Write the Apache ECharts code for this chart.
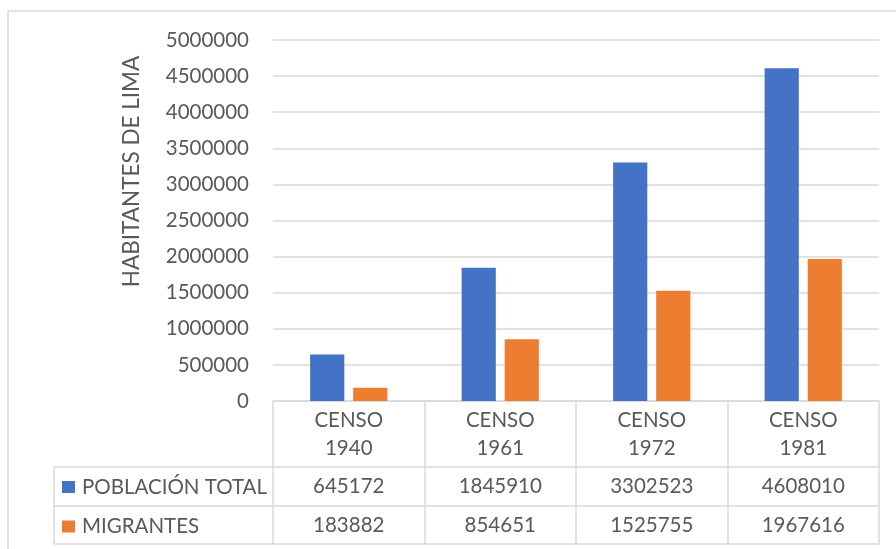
<!DOCTYPE html>
<html><head><meta charset="utf-8">
<script src="https://cdn.jsdelivr.net/npm/echarts@6/dist/echarts.min.js"></script>
<style>html,body{margin:0;padding:0;background:#fff}#c{width:896px;height:549px}</style>
</head><body><div id="c"></div>
<script>
// ---- data ----
const categories = ['CENSO\n1940', 'CENSO\n1961', 'CENSO\n1972', 'CENSO\n1981'];
const seriesNames = ['POBLACIÓN TOTAL', 'MIGRANTES'];
const poblacionTotal = [645172, 1845910, 3302523, 4608010];
const migrantes = [183882, 854651, 1525755, 1967616];
const yMin = 0, yMax = 5000000, yInterval = 500000;
const yAxisTitle = 'HABITANTES DE LIMA';

// ---- style ----
const FONT = 'Lato';
const TXT = '#595959';
const LINE = '#D9D9D9';
const COLORS = ['#4472C4', '#ED7D31'];
const FS = 20.5;
const TITLE_FS = 22.5;
const G = { left: 273, right: 17, top: 40, bottom: 148 };
const ROWS = [66, 39, 38];
const TABLE_LEFT = 54;

const chart = echarts.init(document.getElementById('c'), null, { renderer: 'canvas' });

const option = {
  animation: false,
  textStyle: { fontFamily: FONT },
  grid: { left: G.left, right: G.right, top: G.top, bottom: G.bottom, containLabel: false },
  legend: {
    orient: 'vertical', left: 62, top: 476.5, padding: 0,
    itemWidth: 13, itemHeight: 12, itemGap: 18.5,
    icon: 'rect', selectedMode: false,
    textStyle: { color: TXT, fontSize: FS, fontFamily: FONT, lineHeight: 20, padding: [0, 0, 0, 2] },
    data: seriesNames
  },
  xAxis: {
    type: 'category', data: categories,
    axisLine: { lineStyle: { color: LINE, width: 1.5 } },
    axisTick: { show: true, length: ROWS[0] + ROWS[1] + ROWS[2], lineStyle: { color: LINE, width: 1.5 } },
    axisLabel: { color: TXT, fontSize: FS, fontFamily: FONT, lineHeight: 28, margin: 5, interval: 0 }
  },
  yAxis: {
    type: 'value', min: yMin, max: yMax, interval: yInterval,
    axisLine: { show: false }, axisTick: { show: false },
    axisLabel: { color: TXT, fontSize: FS, fontFamily: FONT, margin: 24, formatter: v => String(v) },
    splitLine: { lineStyle: { color: LINE, width: 1.5 } }
  },
  series: [
    { type: 'bar', name: seriesNames[0], data: poblacionTotal, itemStyle: { color: COLORS[0] }, barGap: '26%', barCategoryGap: '49%' },
    { type: 'bar', name: seriesNames[1], data: migrantes, itemStyle: { color: COLORS[1] }, barGap: '26%', barCategoryGap: '49%' }
  ]
};
chart.setOption(option);

// ---- table (data-table under the axis) ----
const H = chart.getHeight(), W = chart.getWidth();
const axisY = H - G.bottom;
const rightX = W - G.right;
const r1 = axisY + ROWS[0], r2 = r1 + ROWS[1], r3 = r2 + ROWS[2];
const graphics = [];
graphics.push({ type: 'rect', shape: { x: 8, y: 11, width: W, height: H }, style: { fill: 'none', stroke: LINE, lineWidth: 1.5 }, silent: true });
[r1, r2, r3].forEach(y => graphics.push({ type: 'line', shape: { x1: TABLE_LEFT, y1: y, x2: rightX, y2: y }, style: { stroke: LINE, lineWidth: 1.5 }, silent: true }));
graphics.push({ type: 'line', shape: { x1: TABLE_LEFT, y1: r1, x2: TABLE_LEFT, y2: r3 }, style: { stroke: LINE, lineWidth: 1.5 }, silent: true });
const rowsData = [poblacionTotal, migrantes];
const rowCenters = [(r1 + r2) / 2, (r2 + r3) / 2];
rowsData.forEach((arr, ri) => {
  arr.forEach((v, ci) => {
    const x = chart.convertToPixel({ xAxisIndex: 0 }, ci);
    graphics.push({ type: 'text', x: x, y: rowCenters[ri], style: { text: String(v), fill: TXT, font: FS + 'px ' + FONT, textAlign: 'center', textVerticalAlign: 'middle' }, silent: true });
  });
});
graphics.push({ type: 'text', x: 132, y: 171.5, rotation: Math.PI / 2, style: { text: yAxisTitle, fill: TXT, font: TITLE_FS + 'px ' + FONT, textAlign: 'center', textVerticalAlign: 'middle' }, silent: true });
chart.setOption({ graphic: graphics });
</script>
</body></html>
